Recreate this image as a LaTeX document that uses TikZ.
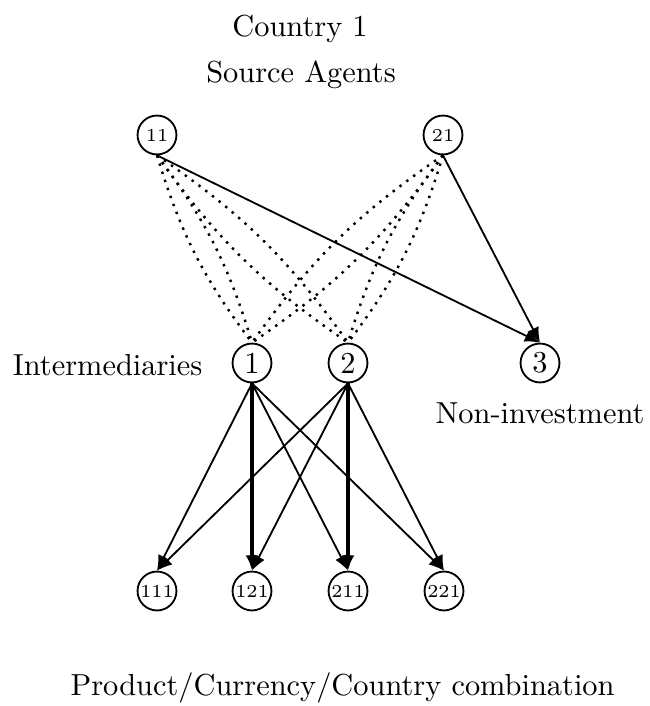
\documentclass[tikz,border=0pt]{standalone}
\usetikzlibrary{arrows.meta}
\begin{document}
\begin{tikzpicture}[x=0.3289pt,y=-0.3289pt,
  agent/.style={circle,draw,line width=0.6pt,minimum size=12.8pt,inner sep=0.3pt},
  small/.style={agent,font=\fontsize{6}{7}\selectfont},
  link/.style={line width=0.6pt,-{Latex[length=5pt,width=4.2pt]}},
  strong/.style={link,line width=1pt},
  route/.style={line width=0.8pt,dash pattern=on 0.8pt off 2pt},
  label/.style={inner sep=0pt,anchor=base}]
\useasboundingbox (0,0) rectangle (650,706);

% headings and captions
\node[label] (country) at (300,36) {Country 1};
\node[label] (source) at (301,82) {Source Agents};
\node[label,anchor=base east] (interm) at (203,375) {Intermediaries};
\node[label] (noninv) at (540,423) {Non-investment};
\node[label,anchor=base west] (combo) at (70,695) {Product/Currency/Country combination};

% source agents
\node[small] (s11) at (157,135) {11};
\node[small] (s21) at (443,135) {21};

% intermediaries and the non-investment option
\node[agent] (i1) at (252,363) {1};
\node[agent] (i2) at (348,363) {2};
\node[agent] (i3) at (540,363) {3};

% product/currency/country combinations
\node[small] (p111) at (157,591) {111};
\node[small] (p121) at (252,591) {121};
\node[small] (p211) at (348,591) {211};
\node[small] (p221) at (444,591) {221};

% dotted routes from source agents to intermediaries
\foreach \s in {s11,s21}{
  \foreach \t in {i1,i2}{
    \draw[route] (\s.south) to[bend left=10] (\t.north);
    \draw[route] (\s.south) to[bend right=10] (\t.north);
  }
}

% direct flows to non-investment
\draw[link] (s11.south) -- (i3.north);
\draw[link] (s21.south) -- (i3.north);

% intermediaries to combinations
\draw[link] (i1.south) -- (p111.north);
\draw[strong] (i1.south) -- (p121.north);
\draw[link] (i1.south) -- (p211.north);
\draw[link] (i1.south) -- (p221.north);
\draw[link] (i2.south) -- (p111.north);
\draw[link] (i2.south) -- (p121.north);
\draw[strong] (i2.south) -- (p211.north);
\draw[link] (i2.south) -- (p221.north);
\end{tikzpicture}
\end{document}
